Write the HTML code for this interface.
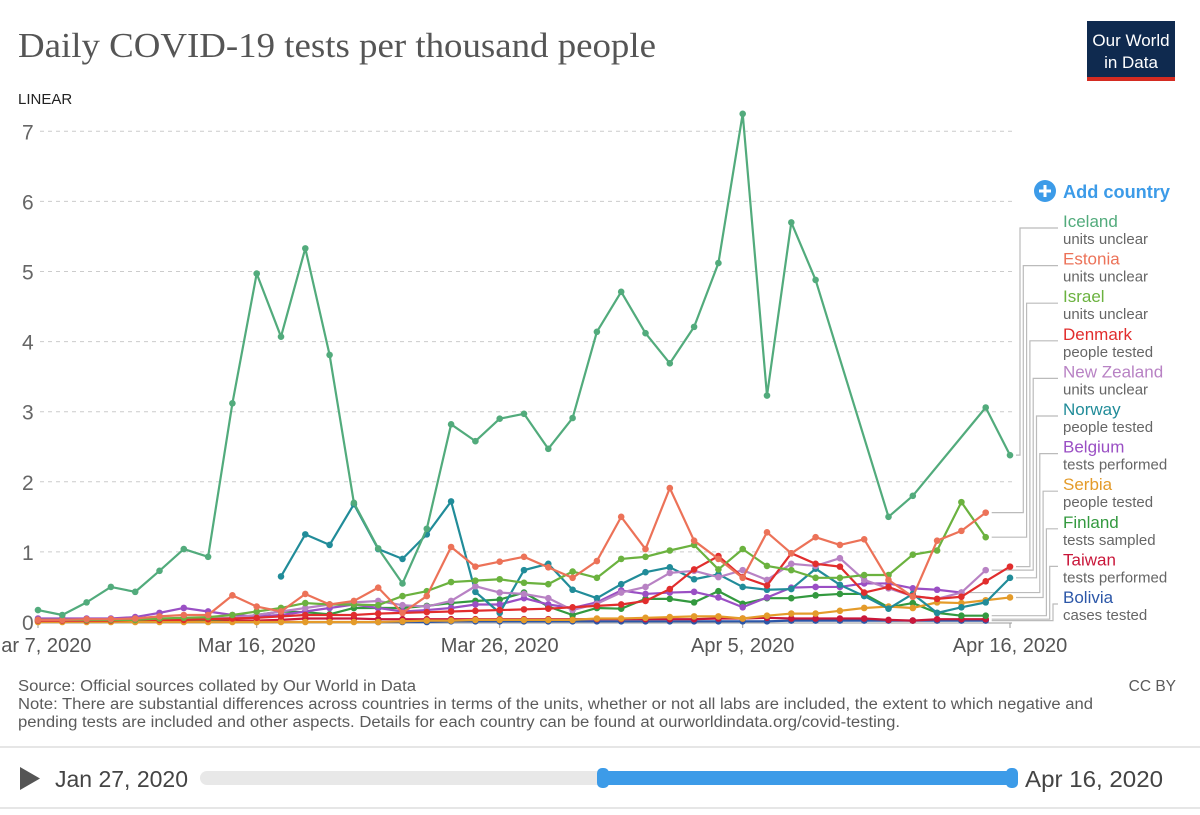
<!DOCTYPE html>
<html><head><meta charset="utf-8">
<style>
body{margin:0;background:#fff;width:1200px;height:815px;overflow:hidden;font-family:"Liberation Sans",sans-serif;}
</style></head>
<body>
<svg id="chart" width="1200" height="815" xmlns="http://www.w3.org/2000/svg" style="position:absolute;left:0;top:0">
<text x="18" y="57" font-family="Liberation Serif, serif" font-size="35" fill="#555" textLength="638" lengthAdjust="spacingAndGlyphs">Daily COVID-19 tests per thousand people</text>
<g>
<rect x="1087" y="21" width="88" height="56" fill="#0f2a4f"/>
<rect x="1087" y="77" width="88" height="4" fill="#d42b21"/>
<text x="1131" y="46" text-anchor="middle" font-size="17" fill="#fff">Our World</text>
<text x="1131" y="68" text-anchor="middle" font-size="17" fill="#fff">in Data</text>
</g>
<text x="18" y="104" font-size="15" fill="#222">LINEAR</text>
<g id="grid"></g>
<g id="xaxis"></g>
<g id="connectors"></g>
<g id="series"></g>
<g id="legend"></g>
<g>
<circle cx="1045" cy="191" r="11" fill="#3c9be8"/>
<rect x="1039" y="189.5" width="12" height="3" fill="#fff"/><rect x="1043.5" y="185" width="3" height="12" fill="#fff"/>
<text x="1063" y="198" font-size="18" font-weight="bold" fill="#3c9be8" textLength="107" lengthAdjust="spacingAndGlyphs">Add country</text>
</g>
<text x="18" y="691" font-size="15.5" fill="#5b5b5b" textLength="398" lengthAdjust="spacingAndGlyphs">Source: Official sources collated by Our World in Data</text>
<text x="1176" y="691" text-anchor="end" font-size="15.5" fill="#5b5b5b">CC BY</text>
<text x="18" y="709" font-size="15.5" fill="#5b5b5b" textLength="1075" lengthAdjust="spacingAndGlyphs">Note: There are substantial differences across countries in terms of the units, whether or not all labs are included, the extent to which negative and</text>
<text x="18" y="727" font-size="15.5" fill="#5b5b5b" textLength="882" lengthAdjust="spacingAndGlyphs">pending tests are included and other aspects. Details for each country can be found at ourworldindata.org/covid-testing.</text>
<line x1="0" y1="747" x2="1200" y2="747" stroke="#ddd" stroke-width="1.5"/>
<line x1="0" y1="808" x2="1200" y2="808" stroke="#ddd" stroke-width="1.5"/>
<polygon points="20,767 20,790 40,778.5" fill="#555"/>
<text x="55" y="787" font-size="23" fill="#444" textLength="133" lengthAdjust="spacingAndGlyphs">Jan 27, 2020</text>
<rect x="200" y="771" width="815" height="14" rx="7" fill="#e8e8e8"/>
<rect x="600" y="771" width="415" height="14" rx="7" fill="#3c9be8"/>
<rect x="597" y="768" width="12" height="20" rx="5" fill="#3c9be8"/>
<rect x="1006" y="768" width="12" height="20" rx="5" fill="#3c9be8"/>
<text x="1025" y="787" font-size="23" fill="#444" textLength="138" lengthAdjust="spacingAndGlyphs">Apr 16, 2020</text>
</svg>
<script>
const yTicks=[0,1,2,3,4,5,6,7];
const xTickDays=[0,9,19,29,40];
const xTickLabels=["Mar 7, 2020","Mar 16, 2020","Mar 26, 2020","Apr 5, 2020","Apr 16, 2020"];
const countries=["Iceland","Estonia","Israel","Denmark","New Zealand","Norway","Belgium","Serbia","Finland","Taiwan","Bolivia"];
const units=["units unclear","units unclear","units unclear","people tested","units unclear","people tested","tests performed","people tested","tests sampled","tests performed","cases tested"];
const colors=["#52ab7c","#ec7258","#6bb23f","#e12d2d","#b882c4","#218c99","#9a4fc4","#e49b2a","#33993f","#c9173a","#2c57a8"];
const N=null;
const iceland=[.17,.1,.28,.5,.43,.73,1.04,.93,3.12,4.97,4.07,5.33,3.81,1.7,1.05,.55,1.33,2.82,2.58,2.9,2.97,2.47,2.91,4.14,4.71,4.12,3.69,4.21,5.12,7.25,3.23,5.7,4.88,N,N,1.5,1.8,N,N,3.06,2.38];
const estonia=[.03,.03,.04,.04,.05,.08,.1,.1,.38,.22,.15,.4,.25,.3,.49,.13,.37,1.07,.79,.86,.93,.78,.63,.87,1.5,1.04,1.91,1.16,.9,.63,1.28,.98,1.21,1.1,1.18,.6,.36,1.16,1.3,1.56,N];
const israel=[.03,.03,.03,.03,.03,.05,.06,.07,.1,.15,.2,.27,.25,.25,.24,.37,.44,.57,.59,.61,.56,.54,.72,.63,.9,.93,1.02,1.1,.75,1.04,.8,.74,.63,.63,.67,.67,.96,1.02,1.71,1.21,N];
const denmark=[.02,.02,.02,.02,.03,.03,.03,.04,.05,.06,.08,.1,.1,.1,.12,.13,.14,.15,.16,.17,.18,.19,.21,.23,.25,.3,.47,.75,.94,.64,.52,.98,.83,.79,.42,.5,.37,.33,.36,.58,.79];
const newZealand=[.02,.02,.02,.03,.03,.04,.05,.05,.06,.1,.15,.2,.25,.28,.3,.24,.22,.3,.51,.42,.4,.34,.17,.26,.42,.5,.7,.73,.64,.74,.6,.83,.8,.91,.6,.48,.37,.33,.42,.74,N];
const norway=[N,N,N,N,N,N,N,N,N,N,.65,1.25,1.1,1.68,1.04,.9,1.25,1.72,.43,.13,.74,.83,.46,.34,.54,.71,.78,.61,.68,.5,.46,.47,.76,.53,.37,.19,.4,.13,.21,.28,.63];
const belgium=[.05,.05,.05,.05,.07,.13,.2,.15,.1,.08,.1,.15,.2,.25,.2,.15,.17,.2,.25,.25,.34,.25,.2,.28,.45,.4,.42,.43,.35,.21,.35,.49,.5,.5,.55,.55,.48,.46,.42,N,N];
const serbia=[0,0,0,0,0,0,0,0,0,0,0,0,0,0,0,.01,.02,.02,.03,.03,.03,.03,.03,.05,.05,.06,.07,.08,.08,.05,.09,.12,.12,.16,.2,.22,.2,.28,.27,.31,.35];
const finland=[.03,.03,.03,.03,.03,.03,.03,.03,.05,.1,.15,.14,.11,.2,.2,.2,.23,.27,.3,.32,.42,.22,.1,.2,.19,.33,.33,.28,.44,.26,.34,.34,.38,.4,.4,.21,.27,.13,.09,.09,N];
const taiwan=[.01,.01,.01,.01,.01,.01,.01,.01,.02,.02,.03,.05,.05,.05,.04,.04,.04,.04,.04,.04,.04,.04,.04,.04,.04,.04,.04,.04,.05,.05,.06,.05,.05,.05,.05,.03,.02,.04,.04,.04,N];
const bolivia=[N,N,N,N,N,N,N,N,N,N,N,N,N,N,0,0,0,.01,.01,.01,.01,.01,.01,.01,.01,.01,.01,.01,.01,.01,.01,.02,.02,.02,.02,.02,.02,.02,.02,.02,N];
const seriesData=[iceland,estonia,israel,denmark,newZealand,norway,belgium,serbia,finland,taiwan,bolivia];

const NS="http://www.w3.org/2000/svg";
function xs(d){return 38+d*24.3;}
function ys(v){return 622-v*70.1;}
function mk(tag,attrs,parent){const e=document.createElementNS(NS,tag);for(const k in attrs)e.setAttribute(k,attrs[k]);parent.appendChild(e);return e;}
const grid=document.getElementById('grid');
yTicks.forEach(t=>{
  if(t>0){const l=mk('line',{x1:40,x2:1012,y1:ys(t),y2:ys(t),stroke:'#ccc','stroke-dasharray':'4,4'},grid);
  
  }
  const tx=mk('text',{x:22,y:ys(t)+8,'font-size':21,fill:'#666'},grid);tx.textContent=t;
  
  
});
const xa=document.getElementById('xaxis');
const ax=mk('line',{x1:38,x2:1012,y1:623,y2:623,stroke:'#999'},xa);


xTickDays.forEach((d,i)=>{
  const tk=mk('line',{x1:xs(d),x2:xs(d),y1:623,y2:628,stroke:'#999'},xa);
  
  
  const t=mk('text',{x:xs(d),y:652,'font-size':20,fill:'#555','text-anchor':'middle'},xa);t.textContent=xTickLabels[i];
  
  
});
const sg=document.getElementById('series');
for(let s=seriesData.length-1;s>=0;s--){
  const arr=seriesData[s];const g=mk('g',{},sg);
  
  
  const pts=[];arr.forEach((v,d)=>{if(v!==null)pts.push([xs(d),ys(v)]);});
  const pl=mk('polyline',{points:pts.map(p=>p.join(',')).join(' '),fill:'none',stroke:colors[s],'stroke-width':2.2,'stroke-linejoin':'round'},g);
  
  
  pts.forEach(p=>{const c=mk('circle',{cx:p[0],cy:p[1],r:3.3,fill:colors[s]},g);
    
    });
}
const lg=document.getElementById('legend');const cn=document.getElementById('connectors');
countries.forEach((c,i)=>{
  const y0=227+i*37.6;
  const arr=seriesData[i];let last=arr.length-1;while(arr[last]===null)last--;
  const ex=xs(last)+6, ey=ys(arr[last]);
  const vx=1020+i*3.3;
  const p=mk('polyline',{points:`${ex},${ey} ${vx},${ey} ${vx},${y0+1} ${1058},${y0+1}`,fill:'none',stroke:'#bbb','stroke-width':1.2},cn);
  
  
  const g=mk('g',{},lg);
  
  
  const t=mk('text',{x:1063,y:y0,'font-size':17,fill:colors[i]},g);t.textContent=c;
  const u=mk('text',{x:1063,y:y0+17,'font-size':15,fill:'#666'},g);u.textContent=units[i];
});
</script>
</body></html>
